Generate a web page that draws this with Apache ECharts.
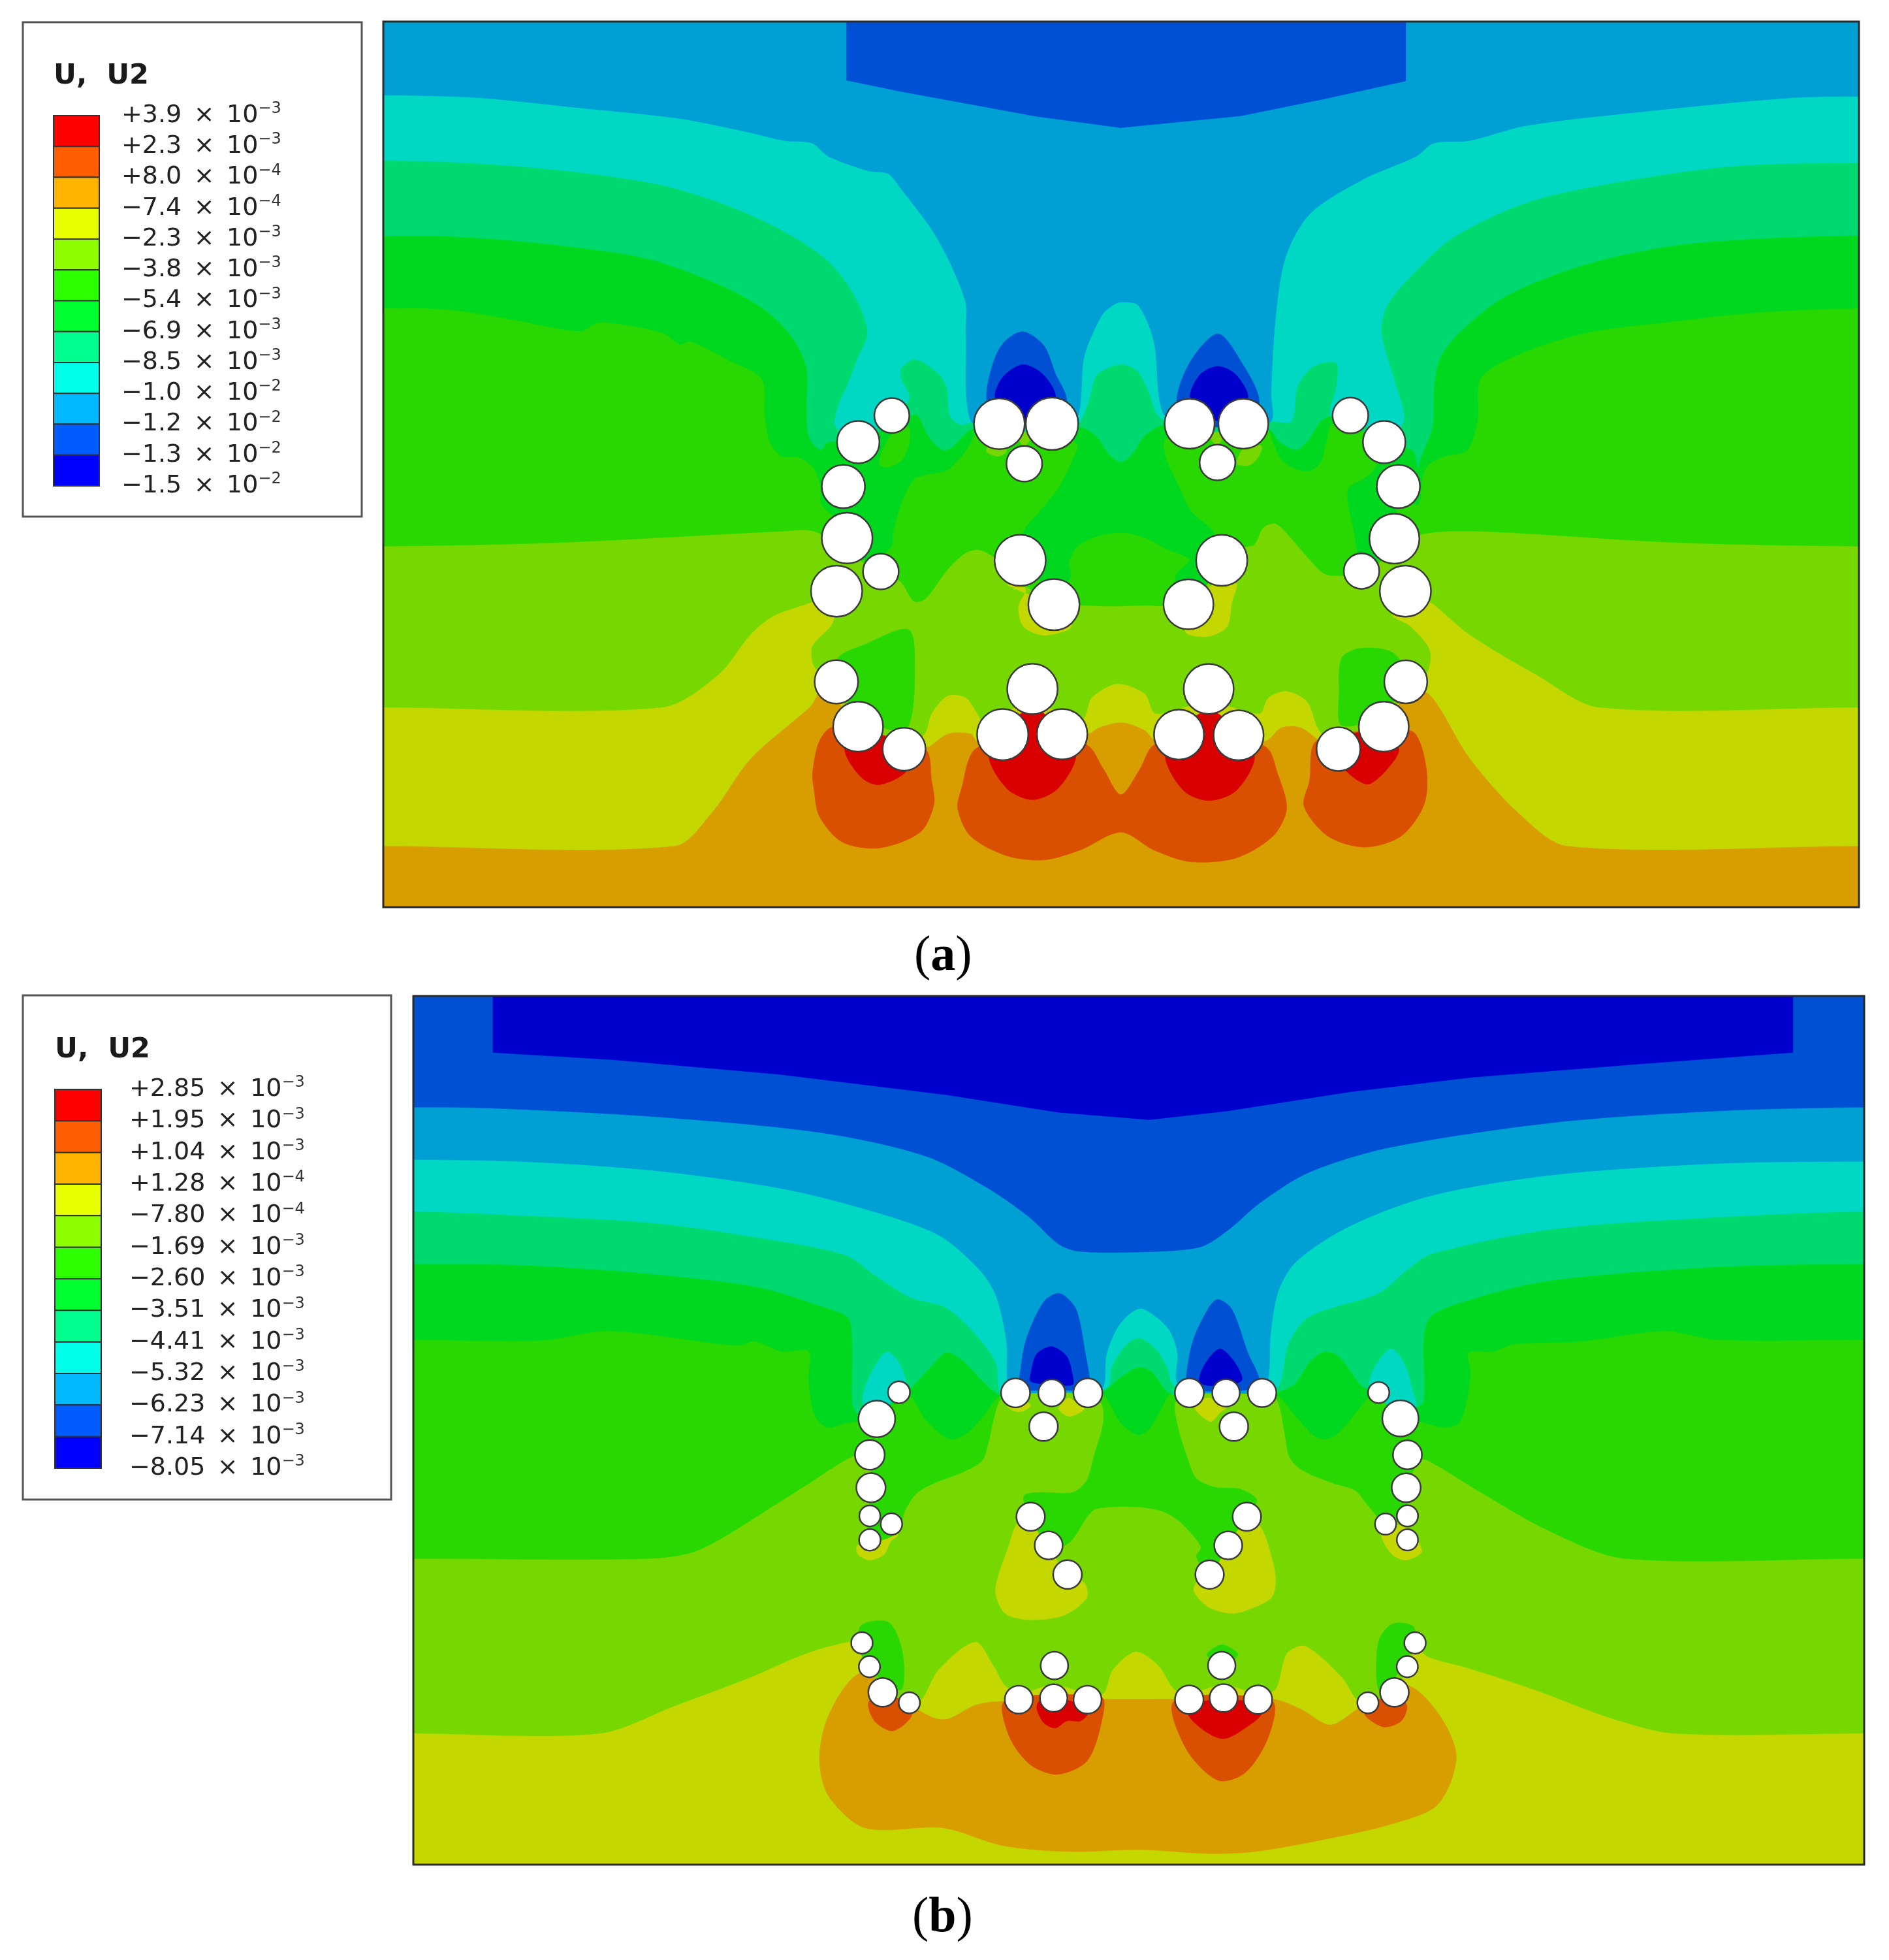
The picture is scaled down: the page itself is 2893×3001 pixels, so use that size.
<!DOCTYPE html>
<html>
<head>
<meta charset="utf-8">
<style>html,body{margin:0;padding:0;background:#fff}#c{width:2893px;height:3001px}</style>
<script src="https://cdn.jsdelivr.net/npm/echarts@6/dist/echarts.min.js"></script>
</head>
<body>
<div id="c"></div>
<script>
// ---------- legend values ----------
const legendA = [['+3.9','−3'],['+2.3','−3'],['+8.0','−4'],['−7.4','−4'],['−2.3','−3'],['−3.8','−3'],['−5.4','−3'],['−6.9','−3'],['−8.5','−3'],['−1.0','−2'],['−1.2','−2'],['−1.3','−2'],['−1.5','−2']];
const legendB = [['+2.85','−3'],['+1.95','−3'],['+1.04','−3'],['+1.28','−4'],['−7.80','−4'],['−1.69','−3'],['−2.60','−3'],['−3.51','−3'],['−4.41','−3'],['−5.32','−3'],['−6.23','−3'],['−7.14','−3'],['−8.05','−3']];
const legendColors = ['#ff0000','#ff5f00','#ffb400','#e8ff00','#8fff00','#2eff00','#00ff2e','#00ff8f','#00ffe8','#00b9ff','#005cff','#0000ff'];
const C = {red:'#d80000',dkor:'#d85000',orange:'#d89e00',olive:'#c4d800',yg:'#76d800',lime:'#28d800',green:'#00d820',sea:'#00d870',teal:'#00d8c4',light:'#009fd4',blue:'#0050d4',dark:'#0000cc'};

// ---------- panel (a): holes ----------
const aHoles = [[714,332.4,14],[687.1,353.7,17],[675.2,389.2,17.3],[678.2,430.5,20.3],[705.2,457.3,14.3],[669.8,473,20.5],
[800,339,20.3],[842.2,339,21],[820,371,14.3],[816.7,448.3,20.5],[843.7,483.8,20.5],
[952.3,339,20],[995.3,339,20],[974.6,370,14.3],[978,448.3,20.5],[951.4,483.5,20],
[1081,332.4,14.3],[1108,353.7,17],[1119.4,389.2,17.3],[1116.2,431,20],[1089.9,457,14.2],[1125,473,20.5],
[669.6,545.6,17.4],[687,581.5,20],[723.8,599.5,17.2],[826.5,551.3,20.2],[802.7,587.8,20.5],[850.3,587.5,20.2],
[967.6,551.3,20],[943.8,587.8,20],[991.5,588.4,20],[1071.4,599.5,17.5],[1107.7,581.5,20],[1125.3,545.6,17.2]];

// ---------- panel (a): contour boundaries, left edge to right edge ----------
const aOliveLine = [[307,677],[540,677],[570,650],[601,607],[649,565],[656,555],[669,560],[687,580],[723,600],[742,598],[759,587],[777,587],[783,593],[803,577],[826.5,571],[850,577],[870.5,587],[880,582],[898,578],[916,584],[925.5,592],[967.6,571],[1011.6,593],[1026,582],[1041,582],[1055.6,592],[1071,600],[1107,582],[1125,557],[1143.6,555],[1176,606],[1215,650],[1255,677],[1488,677]];
const aYgLine = [[307,566],[530,566],[575,540],[601,507.6],[619,493],[649,482],[669,473],[667,498],[650.5,517],[650.5,530],[654,536],[669.6,552],[687,580.5],[723.8,599.5],[740.3,587],[745.8,571],[758.7,556.7],[773.3,558.3],[782.5,571],[788,579],[802.7,571],[826.5,561.5],[850.3,571],[866.8,575.7],[874,558.3],[894.3,547.2],[916.3,555],[925.5,571],[967.6,561.5],[1008,571],[1015.3,558.3],[1030,553],[1046.5,561.5],[1055.6,583.6],[1071.4,599.5],[1107,582],[1125.3,552],[1141.8,539.3],[1144.4,520.3],[1129,501.3],[1114.3,491.8],[1125.3,472.8],[1143.6,480.7],[1176,507.6],[1230,540],[1280,566],[1488,566]];
const aLimeLine = [[307,437],[450,434],[627,425],[651.5,425],[678,440],[705,460],[720.5,465],[731.7,481],[741,479],[757.9,456.5],[772.8,442.5],[784,440],[796,446],[817,465],[844,484],[864,484.3],[888.5,485],[920,484.3],[931.4,484.3],[951,470],[978,440],[998.6,437.3],[1004.2,435.6],[1011.7,421.6],[1021,419],[1030.4,427],[1045.3,444.3],[1060.2,459],[1075.2,460.8],[1090,460],[1117,440],[1136.8,427.7],[1181,425],[1340,434],[1488,437]];
const aGreenLine = [[307,246.6],[356.4,247.3],[409.8,255.4],[464.4,264.8],[480.4,257.8],[529.8,266],[544.4,275.3],[552.4,273],[583,288],[610,303.3],[612.4,332.4],[616.4,353.4],[625.8,365],[640,366],[651.5,374.6],[657,390],[658,404],[676,420],[695,450],[713.4,437.3],[715,425],[722.4,400.7],[731.7,383.3],[741,379.8],[757.9,376.3],[769,365.9],[776.5,355.4],[782,345],[800,345],[842,345],[862.4,355.4],[858.7,367.6],[847.5,390.3],[830.7,411.2],[819.5,425],[817,449],[844,470],[856.8,462.6],[855.9,449.5],[862.4,437.3],[877.3,429.5],[897.8,426],[916.5,430.3],[933.3,439],[952,447.8],[942.6,458.2],[940.8,464.3],[951,484],[977,448],[970.6,425],[953.8,409.4],[942.6,386.8],[933.3,366],[932.4,352],[952,345],[995,345],[1015.4,345],[1019,353.7],[1025.7,367.6],[1037.8,375.5],[1049,376.3],[1057.4,369.4],[1062,352],[1065.8,339.7],[1081,335],[1108,353],[1101,374],[1093.8,381.6],[1079,392],[1084.5,428.6],[1086.4,440.8],[1090,457],[1117,431],[1119,395],[1135,404],[1138.6,381.5],[1143.3,372],[1156.3,365],[1174.3,360.4],[1182.5,337],[1185.7,302],[1221.7,281],[1270.7,266],[1340,257],[1411,249.6],[1488,246.6]];
const aSeaLine = [[307,188.5],[361.8,189],[436.4,194.8],[516.4,206.4],[570,225],[610,246],[634,269.4],[645.8,295],[645.8,332.4],[648.4,351],[657,360],[662.7,353.7],[687,353],[714,340],[728,332.8],[734.5,332],[743,348.4],[754,359.8],[761.6,358],[778.4,343.2],[800,345],[842,345],[864.2,341.5],[877.3,348.5],[888.5,364],[897.8,369.4],[907,362.4],[916.5,348.4],[932.4,339.7],[952,345],[995,345],[1015.4,343.2],[1024.8,353.7],[1037.8,359.8],[1047.2,352],[1056.5,338],[1065.8,332.8],[1081,340],[1108,353],[1131,360.7],[1135,374.6],[1136.7,367.4],[1146.5,341.8],[1148,309],[1153,285.8],[1169.4,264.8],[1205.4,236.8],[1270.7,211],[1352,194.8],[1488,188.2]];
const aTealLine = [[307,128.3],[383,130.6],[463,137.6],[530,148],[583,164.4],[628.4,185.4],[663,208.8],[684.4,236.8],[694.6,266],[687,285.8],[679,306.8],[671,325.4],[669,341.5],[687,350],[714,333],[728,318.8],[721.5,303],[721.5,294.4],[733,287.4],[751,298.6],[757.9,310],[760.7,332.8],[769,339.7],[778,338],[800,339],[843,339],[862,339.7],[870.5,323.9],[877.8,300.1],[890.6,292.9],[899.8,291.6],[910.8,297],[920,314.4],[925.5,330.2],[932.8,336.6],[952,339],[995,339],[1017.5,337],[1033.8,337],[1038.7,309],[1051.8,292.8],[1069.8,290.4],[1069.8,309],[1065,332.4],[1081,332],[1108,350],[1123.7,337],[1115.5,302],[1105.7,266],[1110.6,243.8],[1130,220.4],[1163,190],[1221.7,162],[1287,147],[1385,133],[1488,130]];
const aLightLine = [[307,76],[383,78],[463,86],[543,94.5],[596.4,105],[628.4,112.4],[650,114.3],[663,124.8],[695,136.5],[711,138.8],[721,150.4],[750,190],[772.6,240],[773.3,266.9],[777,336.6],[800,339],[843,339],[862,335],[868,285],[881.8,252.6],[891,244],[897.5,241.7],[911,244],[923.7,273],[931,330],[952,339],[995,339],[1017.5,337],[1017.5,314],[1021,255],[1029,206],[1048.5,171],[1091,143.4],[1133.5,125],[1148,114.3],[1176,112.4],[1222,100.3],[1320,88.6],[1434,78],[1488,77]];
const aBlueTop = [[677.8,0],[677.8,64],[721,73],[830,93],[897,102],[993,92.6],[1060,79],[1125.3,64.6],[1125.3,0]];
const aBlueDomeL = [[789.8,319],[795.5,289],[804.4,273],[819,265.2],[835.7,276.4],[844.8,298.6],[854,320.7],[842,339],[800,339]];
const aBlueDomeR = [[942,320.7],[953,289],[975,266.9],[993.4,289],[1008,320.7],[995,339],[952,339]];
const aDarkDomeL = [[797,319],[802.7,301.7],[819,291.6],[835.7,300.1],[844.8,319],[821,336]];
const aDarkDomeR = [[953,319],[960.3,300],[975,293],[989.7,300],[998.8,319],[975,336.6]];
// closed blobs
const aDkOrangeL = [[650.5,618.5],[656,593.1],[667,582],[740.3,599.5],[745.8,624.8],[747.7,643.8],[736.7,666],[703.7,678.7],[674.3,673.9],[656,653.3],[651.6,631.2]];
const aDkOrangeC = [[780.7,599.5],[769.7,631.2],[766.7,647],[777,669.2],[806.3,685],[835.7,688.2],[865,680.2],[897.3,666],[923.6,680.2],[953,689.7],[989.6,686.6],[1019,669.2],[1030,647],[1022.6,618.5],[1013.5,597.9],[967.6,583.6],[923.6,596.3],[912.6,615.3],[897.3,635.9],[883.3,615.3],[870.5,596.3],[826.5,583.6]];
const aDkOrangeR = [[1053.8,593.1],[1048.3,624.8],[1043.9,645.4],[1063,669.2],[1092.3,678],[1121.6,669.2],[1140,643.8],[1141.8,615.3],[1132.6,586.8],[1114.3,583.6]];
const aRed1 = [[676.2,599.5],[689,621.6],[703.7,628],[725.7,617],[723.8,599.5],[687,582]];
const aRed2 = [[791.7,605.8],[806.3,631.2],[826.5,640],[846.7,631.2],[861.3,605.8],[850.3,593.1],[835.7,571],[817.3,571],[802.7,586.8]];
const aRed3 = [[932.8,605.8],[947.5,632.7],[967.6,640.7],[989.6,632.7],[1004.3,605.8],[989.6,586.8],[975,571],[960.3,571],[943.8,586.8]];
const aRed4 = [[1074,612.2],[1085,623.2],[1096,627.4],[1110.6,615.3],[1119.8,599.5],[1107,583.6],[1071.4,593.1]];
const aOlivePatch1 = [[806.3,468],[821,471.2],[815.5,485.4],[819.2,501.3],[835.7,508.3],[857.7,501.3],[843,485.4]];
const aOlivePatch2 = [[989.6,466.4],[986,482.3],[982.3,501.3],[967.6,509.2],[949.3,506],[951,485.4],[971.3,468]];
const aLimePocketL = [[670.7,526.6],[692.7,515.5],[727.5,503.8],[732.3,536],[727.5,580.5],[711,583.6],[687,571],[669.6,545.6]];
const aLimePocketR = [[1074,526.6],[1088.6,518.7],[1114.3,521.9],[1125.3,539.3],[1107,571],[1074,580.5],[1072,552]];
const aLimePatch = [[703.7,371],[711.2,373.7],[722.4,367.6],[728,353.7],[727,341.5],[713,348.5]];
const aYgPatch1 = [[990.2,371],[1000.5,372],[1007,366],[1010,357],[996.8,357]];
const aYgPatch2 = [[789.6,360.6],[799,365],[806,360.6],[798,350]];
const aYgPatch3 = [[813,345],[820,357],[827,345]];
const aYgPatch4 = [[967,345],[974,356],[981,345]];

// ---------- panel (b): holes ----------
const bHoles = [[719.6,1114.1,8.8],[701.9,1135.4,14.7],[696.3,1164.1,11.9],[697.2,1190.4,11.7],[696.3,1213,8.4],[713.6,1219.5,8.6],[696.3,1232.2,8.6],
[812.9,1114.6,11.6],[841.9,1114.6,10.8],[870.8,1114.6,11.6],[835.3,1141.5,11.5],[825,1213.6,11.4],[839.4,1236.6,11.2],[854.5,1259.9,11.5],
[952,1114.6,11.6],[981.3,1114.6,11],[1010.2,1114.6,11.4],[987.6,1141.5,11.5],[998,1213.6,11.4],[983.1,1236.6,11.2],[968.2,1259.9,11.4],
[1103.5,1114.3,8.5],[1120.9,1135,14.5],[1126.5,1164.1,11.6],[1125.5,1190.4,11.6],[1126.5,1213,8.5],[1109,1219.5,8.5],[1126.5,1232.2,8.5],
[690,1314.6,8.6],[696,1333.6,8.5],[706.6,1354.2,11.5],[727.9,1362.5,8.5],[844,1332.7,11],[815.5,1360,11.2],[843.4,1358.7,11],[870.5,1360,11.2],
[977.9,1332.7,11],[951.9,1360,11.4],[979.4,1358.7,11.2],[1006.9,1360,11.4],[1094.9,1362.5,8.5],[1116.1,1354.2,11.5],[1126.4,1333.6,8.5],[1132.6,1314.6,8.6]];

// ---------- panel (b): contour boundaries ----------
const bYgLine = [[331,1387],[480,1387],[540,1365],[601,1342],[637.7,1326],[665,1317],[690,1314],[696,1333],[707,1353],[727,1361],[736.7,1361],[751.3,1336],[780.7,1313.7],[795.3,1332.7],[804.5,1348.5],[816,1355],[843,1348],[871,1355],[883.3,1355],[890.7,1336],[909,1321.6],[927.3,1332.7],[940,1351.7],[952,1355],[979,1348],[1007,1355],[1020.8,1351.7],[1030,1323],[1044.6,1317],[1074,1342],[1086.8,1361],[1095,1362],[1116,1353],[1127,1333],[1132.6,1318],[1143.6,1326],[1176,1335],[1228,1352],[1290,1375],[1340,1387],[1492,1387]];
const bLimeLine = [[331,1247],[520,1247],[560,1240],[627,1200],[646,1188],[681,1166],[696,1164],[697,1190],[696,1232],[718.7,1226.5],[724.3,1209],[733.6,1195],[748.5,1186.4],[767.2,1179.4],[785.9,1169],[791.5,1153.3],[795.2,1136],[800.8,1120],[813,1114],[842,1114],[871,1114],[882,1123.7],[882.9,1139.4],[875.5,1165.5],[869.8,1184.7],[858.6,1194.2],[832.5,1194.2],[819.5,1197],[824,1213],[839,1236],[851.2,1237],[858.6,1231.7],[869.8,1214.3],[877.3,1207.3],[907,1205.6],[929.6,1209],[944.5,1217.8],[961.3,1237.8],[957.6,1245.6],[968,1260],[983,1236],[998,1213],[1006,1200.3],[993,1191.6],[972.5,1190],[957.6,1183],[950,1165.5],[942.6,1141],[940.8,1122],[952,1114],[981,1114],[1010,1114],[1022,1120],[1028.5,1148],[1032,1165.5],[1041.6,1176],[1065.8,1186.4],[1084.5,1192.5],[1095.7,1205.6],[1109,1219],[1126,1213],[1126,1190],[1137.7,1168],[1149.8,1172.5],[1181,1191.6],[1240,1225],[1300,1247],[1492,1247]];
const bGreenLine = [[331,1072],[434,1072.5],[487.3,1065],[590.7,1076.7],[604,1073.2],[625.7,1081.4],[647.3,1081.4],[647.3,1104.7],[652.3,1132.7],[662.3,1142],[677.3,1138.6],[687.3,1137.4],[702,1135],[716.8,1122],[728,1116.7],[741,1136],[754,1148],[763.5,1151.6],[776.5,1144.6],[787.7,1132.4],[800,1116.7],[813,1114],[871,1114],[883,1115],[888.5,1123.7],[897.9,1139.4],[911,1148],[920.2,1142.9],[929.6,1127],[937,1115],[952,1114],[1010,1114],[1022.9,1116.7],[1037.8,1134],[1050.9,1148],[1060.2,1151.6],[1071.4,1146.3],[1086.4,1129],[1094.8,1118.5],[1103,1114],[1121,1135],[1136.2,1137.4],[1155.8,1142],[1168.8,1137.4],[1177,1100],[1175.3,1082.5],[1195,1081.4],[1211.3,1075.6],[1266.8,1073.2],[1332,1065],[1374.6,1072],[1492,1072]];
const bSeaLine = [[331,1011.4],[424,1012.5],[524,1019.6],[607.3,1030],[657.3,1045.2],[679,1054.5],[682.3,1074.4],[682.3,1121],[685.7,1130.4],[702,1135],[719,1114],[728,1111.5],[743,1095.8],[757.9,1082],[771,1089],[786,1104.5],[800,1115.9],[813,1114],[871,1114],[882,1114],[896,1102.8],[911,1094],[922,1097.6],[932.4,1111.5],[940.8,1116.7],[952,1114],[1010,1114],[1025,1112.9],[1036.5,1107],[1049,1088.8],[1061,1081.4],[1072.4,1086],[1090.4,1109.4],[1103,1114],[1121,1135],[1133,1127],[1139.4,1121],[1142.7,1056.9],[1178.6,1039.4],[1244,1024.2],[1374.6,1013.7],[1492,1011.4]];
const bTealLine = [[331,969.4],[424,972.9],[524,978.7],[607.3,990.4],[677.3,1004.4],[700.7,1020.7],[729,1038.2],[757.3,1046.4],[780.7,1067.4],[797.3,1090.7],[800.7,1114],[813,1114],[871,1114],[882,1112],[887.6,1108.9],[890.4,1092.3],[901.6,1076],[912,1070.6],[925.8,1080.1],[934.2,1094],[938.9,1108],[952,1114],[1010,1114],[1023.4,1109.4],[1031.6,1074.4],[1048,1053.4],[1103.5,1034.7],[1126.3,1016],[1146,1003.2],[1244,983.4],[1374.6,974],[1492,969.4]];
const bLightLine = [[331,927.9],[424,929.7],[524,936.7],[624,950.7],[690.7,967],[750.7,988],[784,1016],[797.3,1037],[805.7,1074],[806.7,1107],[813,1114],[842,1114],[871,1114],[883,1110],[885.7,1083.6],[896,1060],[912,1047],[927,1055],[937,1066],[942.6,1083.6],[941.7,1104.5],[952,1114],[980,1114],[1010,1114],[1015.3,1102.4],[1017,1067.4],[1023.4,1032.4],[1038,1009],[1080.6,981],[1146,956.6],[1244,940],[1374.6,931],[1492,929.3]];
const bBlueLine = [[331,885.9],[390.7,886.6],[524,893.6],[657.3,906.4],[740.7,925],[790.7,950.7],[824,974],[846.7,995],[862,1001],[905,1002],[960,998],[982.6,984.6],[1008.7,962.4],[1048,938],[1113.3,918],[1244,898.2],[1374.6,889],[1492,886]];
const bDarkTop = [[394.7,780],[394.7,842.2],[490.7,848],[624,859.7],[757.3,876],[846.7,890],[920,896],[982.6,889],[1080.6,873.7],[1178.6,862],[1309.3,851.6],[1435,842.2],[1435,780]];
const bBlueDomeL = [[815.5,1104.6],[821,1073],[835.7,1041.3],[848.5,1035],[861.3,1047.6],[868.7,1082.5],[872.3,1104.6],[871,1112],[842,1112],[813,1112]];
const bBlueDomeR = [[949.3,1104.6],[954.8,1073],[967.7,1046],[975,1039.7],[986,1047.6],[998.8,1082.5],[1008,1104.6],[1000,1112],[952,1112]];
const bDarkDomeL = [[825,1099.3],[829.7,1083.6],[841.9,1077.5],[854,1085.4],[858.6,1101],[858.6,1108],[841.9,1108],[825,1105.4]];
const bDarkDomeR = [[960.4,1106.3],[964,1092.3],[976.2,1079.3],[987.4,1088.8],[994,1104.5],[976.2,1108.9]];
const bOrangeBlob = [[656,1408.7],[661.5,1377],[679.8,1345.4],[700,1335],[727.5,1362.8],[745.8,1373.9],[758.7,1375.5],[780.7,1364.4],[802.7,1361.2],[883.3,1359.6],[938.3,1359.6],[1019,1359.6],[1041,1367.5],[1064.8,1380.2],[1086.8,1367.5],[1125.3,1348.5],[1151,1370.7],[1165.6,1405.5],[1151,1443.6],[1114.3,1459.4],[1059.3,1472],[1004.3,1481.6],[967.6,1483.2],[912.6,1480],[857.7,1481.6],[802.7,1476.8],[755,1462.6],[692.7,1462.6],[663.3,1437.2]];
const bDkOrange1 = [[695.6,1361.2],[700,1377],[714.7,1385],[729.3,1373.9],[729.3,1362.8],[718,1354]];
const bDkOrange2 = [[804.5,1361.2],[808,1389.7],[824.7,1412],[846.7,1419.8],[870.5,1408.7],[882.6,1373.9],[881.5,1358]];
const bDkOrange3 = [[940,1361.2],[949.3,1399.2],[975,1424.6],[997,1418.2],[1015.3,1389.7],[1018,1361.2]];
const bDkOrange4 = [[1092.3,1370.7],[1107,1381.8],[1121.6,1377],[1126,1364.4],[1114.3,1354.9]];
const bRed1 = [[830,1367.5],[835.7,1378.7],[844.8,1382.7],[854,1377],[865,1377],[870.5,1370.7],[857.7,1361.2],[832,1361.2]];
const bRed2 = [[951,1370.7],[962,1383.4],[978.6,1391.3],[993.3,1385],[1010,1370.7],[997,1361.2],[964,1361.2]];
const bOlivePatchC1 = [[813.9,1219.5],[806.4,1240.4],[799,1261.3],[797,1275.2],[804.5,1291],[823,1296],[851.2,1292.7],[869.8,1278.7],[868,1266.6],[854,1260],[839,1236],[824,1213]];
const bOlivePatchC2 = [[1009.8,1223],[1019,1251],[1021,1266.6],[1017.3,1278.7],[1000.5,1287.5],[985.6,1291],[966.9,1285.7],[955.7,1273.5],[957.6,1266.6],[968,1260],[983,1236],[998,1213]];
const bOlivePatchS1 = [[686,1237],[687,1243.9],[696.3,1248.3],[707.5,1243.9],[713,1233.4],[718.7,1228],[713,1219],[696,1232]];
const bOlivePatchS2 = [[1106,1230],[1114.4,1243.9],[1125.5,1248.3],[1137.7,1242.2],[1135,1233.4],[1126.5,1223],[1108.8,1219.5]];
const bOlivePatchT1 = [[806.4,1125.4],[815.7,1129.8],[825,1124.6],[813.9,1118.5]];
const bOlivePatchT2 = [[847.5,1127.2],[855.9,1133.3],[868,1127.2],[858.6,1120.2],[854.9,1118.5]];
const bOlivePatchT3 = [[955.7,1125.4],[968.8,1137.6],[976.2,1130.7],[981.8,1125.4],[966.9,1118.5]];
const bLimePocketL = [[689,1301],[711,1297.9],[722,1320],[722,1351.7],[707,1345.4],[689,1323]];
const bLimePocketR = [[1103.3,1313.7],[1114.3,1299.4],[1130.8,1301],[1132.6,1313.7],[1114.3,1345.4],[1103.3,1351.7]];
const bLimeCap = [[966,1324],[978,1316],[991,1324],[978,1332]];
const bTealIslandL = [[690.7,1122],[696.3,1101],[709.3,1082],[718.7,1089],[725,1106.3],[719,1114],[702,1135]];
const bTealIslandR = [[1095.7,1108],[1101.3,1092.3],[1113.4,1079.3],[1123.7,1090.6],[1130.2,1111.5],[1133,1125.5],[1120,1135],[1103,1114]];

// ---------- layer order (painted in turn, later over earlier) ----------
const aLayers = [
 ['set',aOliveLine,C.olive],['set',aYgLine,C.yg],
 ['blob',aDkOrangeL,C.dkor],['blob',aDkOrangeC,C.dkor],['blob',aDkOrangeR,C.dkor],
 ['blob',aRed1,C.red],['blob',aRed2,C.red],['blob',aRed3,C.red],['blob',aRed4,C.red],
 ['blob',aOlivePatch1,C.olive],['blob',aOlivePatch2,C.olive],
 ['set',aLimeLine,C.lime],['blob',aLimePocketL,C.lime],['blob',aLimePocketR,C.lime],
 ['blob',aYgPatch1,C.yg],['blob',aYgPatch2,C.yg],['blob',aYgPatch3,C.yg],['blob',aYgPatch4,C.yg],
 ['set',aGreenLine,C.green],['blob',aLimePatch,C.lime],
 ['set',aSeaLine,C.sea],['set',aTealLine,C.teal],['set',aLightLine,C.light],
 ['hard',aBlueTop,C.blue],['blob',aBlueDomeL,C.blue],['blob',aBlueDomeR,C.blue],['blob',aDarkDomeL,C.dark],['blob',aDarkDomeR,C.dark]
];
const bLayers = [
 ['blob',bOrangeBlob,C.orange],['blob',bDkOrange1,C.dkor],['blob',bDkOrange2,C.dkor],['blob',bDkOrange3,C.dkor],['blob',bDkOrange4,C.dkor],
 ['blob',bRed1,C.red],['blob',bRed2,C.red],
 ['set',bYgLine,C.yg],
 ['blob',bOlivePatchC1,C.olive],['blob',bOlivePatchC2,C.olive],['blob',bOlivePatchS1,C.olive],['blob',bOlivePatchS2,C.olive],
 ['set',bLimeLine,C.lime],['blob',bLimePocketL,C.lime],['blob',bLimePocketR,C.lime],['blob',bLimeCap,C.lime],
 ['blob',bOlivePatchT1,C.olive],['blob',bOlivePatchT2,C.olive],['blob',bOlivePatchT3,C.olive],
 ['set',bGreenLine,C.green],
 ['set',bSeaLine,C.sea],['blob',bTealIslandL,C.teal],['blob',bTealIslandR,C.teal],
 ['set',bTealLine,C.teal],['set',bLightLine,C.light],['set',bBlueLine,C.blue],
 ['hard',bDarkTop,C.dark],['blob',bBlueDomeL,C.blue],['blob',bBlueDomeR,C.blue],['blob',bDarkDomeL,C.dark],['blob',bDarkDomeR,C.dark]
];

// ---------- axes extents of the two panels ----------
const extA = {x:[307,1488],y:[17,726]};
const extB = {x:[331,1492],y:[797,1492]};

function layerSeries(layers, ext, ai){
  return layers.map(function(l){
    let pts = l[1];
    if(l[0]==='set'){
      const far=300;
      pts=[[ext.x[0]-far,pts[0][1]]].concat(pts,[[ext.x[1]+far,pts[pts.length-1][1]],[ext.x[1]+far,ext.y[0]-far],[ext.x[0]-far,ext.y[0]-far]]);
    }
    const sm = l[0]==='hard'?0:0.3;
    return {type:'custom',coordinateSystem:'cartesian2d',xAxisIndex:ai,yAxisIndex:ai,clip:true,silent:true,z:2,
      data:pts,encode:{x:0,y:1},
      renderItem:function(p,api){
        if(p.dataIndex!==0) return null;
        return {type:'polygon',shape:{points:pts.map(function(q){return api.coord(q);}),smooth:sm},style:{fill:l[2],stroke:l[2],lineWidth:0.5}};
      }};
  });
}
function holeSeries(data, ai){
  return {type:'custom',coordinateSystem:'cartesian2d',xAxisIndex:ai,yAxisIndex:ai,silent:true,z:3,
    data:data,encode:{x:0,y:1},
    renderItem:function(p,api){
      const c=api.coord([api.value(0),api.value(1)]);
      const r=api.size([api.value(2),0])[0];
      return {type:'circle',shape:{cx:c[0],cy:c[1],r:r},style:{fill:'#fff',stroke:'#3a3a3a',lineWidth:2.5}};
    }};
}
function frameSeries(ext, ai){
  return {type:'custom',coordinateSystem:'cartesian2d',xAxisIndex:ai,yAxisIndex:ai,silent:true,z:4,
    data:[[ext.x[0],ext.y[0]]],encode:{x:0,y:1},
    renderItem:function(p,api){
      const a=api.coord([ext.x[0],ext.y[0]]),b=api.coord([ext.x[1],ext.y[1]]);
      return {type:'rect',shape:{x:a[0],y:a[1],width:b[0]-a[0],height:b[1]-a[1]},style:{fill:'none',stroke:'#2a2a2a',lineWidth:3}};
    }};
}
function barSeries(ai){
  const rows=legendColors.map(function(c,i){return [0,i];});
  return {type:'custom',coordinateSystem:'cartesian2d',xAxisIndex:ai,yAxisIndex:ai,silent:true,z:3,
    data:rows,encode:{x:0,y:1},
    renderItem:function(p,api){
      const i=p.dataIndex,a=api.coord([0,i]),b=api.coord([1,i+1]);
      return {type:'rect',shape:{x:a[0],y:a[1],width:b[0]-a[0],height:b[1]-a[1]},style:{fill:legendColors[i],stroke:'#333',lineWidth:2}};
    }};
}
function panelAxis(ext,ai,kind){
  return {type:'value',gridIndex:ai,min:ext[0],max:ext[1],inverse:kind==='y',show:false,splitLine:{show:false}};
}
function legendY(ai,labels,margin){
  const gap=' \u2006';
  return {type:'value',gridIndex:ai,min:0,max:12,interval:1,inverse:true,position:'right',
    axisLine:{show:true,lineStyle:{color:'#333',width:2}},
    axisTick:{show:true,length:23,lineStyle:{color:'#333',width:2}},
    splitLine:{show:false},
    axisLabel:{show:true,margin:margin,hideOverlap:false,formatter:function(v){const t=labels[v];return '{m|'+t[0]+gap+'×'+gap+'10}{s|'+t[1]+'}';},
      rich:{m:{fontFamily:'"DejaVu Sans"',fontSize:38,color:'#222'},s:{fontFamily:'"DejaVu Sans"',fontSize:24,color:'#333',padding:[0,0,20,0]}}}};
}
const capRich=function(){return {n:{fontFamily:'"Liberation Serif"',fontSize:76,fontWeight:'normal',color:'#000'},b:{fontFamily:'"Liberation Serif"',fontSize:76,fontWeight:'bold',color:'#000'}};};

const chart = echarts.init(document.getElementById('c'),null,{renderer:'canvas'});
chart.setOption({
  animation:false,
  backgroundColor:'#fff',
  grid:[
    {left:587,top:33,width:2260,height:1356,show:true,backgroundColor:C.orange,borderWidth:0},
    {left:633,top:1525,width:2222,height:1330,show:true,backgroundColor:C.olive,borderWidth:0},
    {left:82,top:177,width:70,height:567},
    {left:84,top:1668,width:71,height:580}
  ],
  xAxis:[panelAxis(extA.x,0,'x'),panelAxis(extB.x,1,'x'),
    {type:'value',gridIndex:2,min:0,max:1,show:false},{type:'value',gridIndex:3,min:0,max:1,show:false}],
  yAxis:[panelAxis(extA.y,0,'y'),panelAxis(extB.y,1,'y'),legendY(2,legendA,34),legendY(3,legendB,43)],
  title:[
    {text:'U,  U2',left:82,top:95,padding:0,textStyle:{fontFamily:'"DejaVu Sans"',fontSize:43,fontWeight:'bold',color:'#1a1a1a'}},
    {text:'U,  U2',left:84,top:1586,padding:0,textStyle:{fontFamily:'"DejaVu Sans"',fontSize:43,fontWeight:'bold',color:'#1a1a1a'}},
    {text:'{n|(}{b|a}{n|)}',left:1400,top:1427,padding:0,textStyle:{fontWeight:'normal',rich:capRich()}},
    {text:'{n|(}{b|b}{n|)}',left:1397,top:2899,padding:0,textStyle:{fontWeight:'normal',rich:capRich()}}
  ],
  graphic:[
    {type:'rect',shape:{x:35,y:34,width:519,height:757},style:{fill:'none',stroke:'#555',lineWidth:3}},
    {type:'rect',shape:{x:35,y:1524,width:564,height:772},style:{fill:'none',stroke:'#555',lineWidth:3}}
  ],
  series:[].concat(
    layerSeries(aLayers,extA,0),[holeSeries(aHoles,0),frameSeries(extA,0)],
    layerSeries(bLayers,extB,1),[holeSeries(bHoles,1),frameSeries(extB,1)],
    [barSeries(2),barSeries(3)]
  )
});
</script>
</body>
</html>
